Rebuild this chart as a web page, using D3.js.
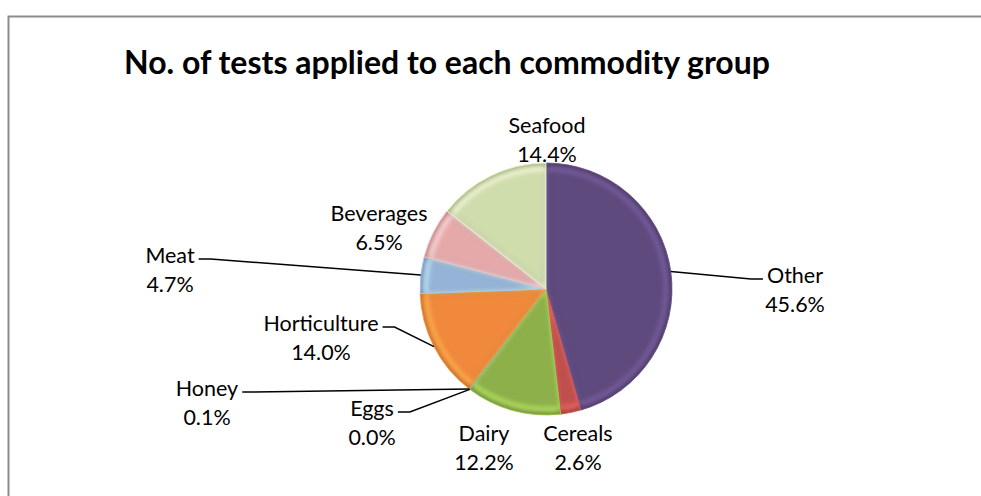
<!DOCTYPE html>
<html>
<head>
<meta charset="utf-8">
<script src="https://cdn.jsdelivr.net/npm/d3@7"></script>
<style>
  body { margin: 0; background: #fff; }
  svg { display: block; }
  text { font-family: Lato, "Open Sans", sans-serif; fill: #000; }
</style>
</head>
<body>
<div id="chart"></div>
<script>
// Data (clockwise from 12 o'clock)
const categories = ["Other", "Cereals", "Dairy", "Eggs", "Honey", "Horticulture", "Meat", "Beverages", "Seafood"];
const percents = [45.6, 2.6, 12.2, 0.0, 0.1, 14.0, 4.7, 6.5, 14.4];
const percentLabels = ["45.6%", "2.6%", "12.2%", "0.0%", "0.1%", "14.0%", "4.7%", "6.5%", "14.4%"];
const sliceColors = ["#5f4a7e", "#c0504d", "#8db04b", "#4bacc6", "#4bacc6", "#f0893c", "#95b3d7", "#e6a9aa", "#cfdcab"];

// label placement (centre x, baseline y of the first line) and whether a leader line is drawn
const labelLayout = {
    "Other":        {x: 795, y: 283, leader: true,  side: "left"},
    "Cereals":      {x: 578, y: 441, leader: false},
    "Dairy":        {x: 484, y: 441, leader: false},
    "Eggs":         {x: 372, y: 416, leader: true,  side: "right"},
    "Honey":        {x: 207, y: 396, leader: true,  side: "right"},
    "Horticulture": {x: 321, y: 331, leader: true,  side: "right"},
    "Meat":         {x: 170, y: 263, leader: true,  side: "right"},
    "Beverages":    {x: 379, y: 221, leader: false},
    "Seafood":      {x: 547, y: 133, leader: false}
};

const width = 981, height = 496;
const cx = 546, cy = 289, radius = 126;
const labelSize = 21.5, lineGap = 29;

const svg = d3.select("#chart").append("svg")
    .attr("width", width)
    .attr("height", height);

const defs = svg.append("defs");
defs.append("filter")
    .attr("id", "soft")
    .attr("x", "-20%").attr("y", "-20%").attr("width", "140%").attr("height", "140%")
    .append("feGaussianBlur")
    .attr("stdDeviation", 2.2);

// chart border (only top and left edges fall inside the window)
svg.append("rect")
    .attr("x", 8.5)
    .attr("y", 16.5)
    .attr("width", 1000)
    .attr("height", 500)
    .attr("fill", "#fff")
    .attr("stroke", "#8c8c8c")
    .attr("stroke-width", 2);

svg.append("text")
    .attr("x", 447)
    .attr("y", 74)
    .attr("text-anchor", "middle")
    .attr("font-size", 32)
    .attr("font-weight", "bold")
    .text("No. of tests applied to each commodity group");

const rows = categories.map((c, i) => ({name: c, value: percents[i], label: percentLabels[i], color: sliceColors[i]}));

const pie = d3.pie()
    .sort(null)
    .value(d => d.value);
const arcs = pie(rows);

const arc = d3.arc().innerRadius(0).outerRadius(radius);

const pieG = svg.append("g")
    .attr("transform", `translate(${cx},${cy})`);

// slices with a soft bevel highlight clipped inside each slice
arcs.forEach((a, i) => {
    if (a.endAngle - a.startAngle <= 0) return;
    const id = "clip" + i;
    defs.append("clipPath").attr("id", id)
        .append("path").attr("d", arc(a));
    const g = pieG.append("g");
    g.append("path")
        .attr("d", arc(a))
        .attr("fill", a.data.color);
    const inner = g.append("g").attr("clip-path", `url(#${id})`);
    inner.append("path")
        .attr("d", arc(a))
        .attr("fill", "none")
        .attr("stroke", d3.color(a.data.color).darker(0.6))
        .attr("stroke-width", 5)
        .attr("filter", "url(#soft)");
    inner.append("path")
        .attr("d", d3.arc().innerRadius(0).outerRadius(radius - 6)(a))
        .attr("fill", "none")
        .attr("stroke", d3.color(a.data.color).brighter(0.9))
        .attr("stroke-opacity", 0.7)
        .attr("stroke-width", 4)
        .attr("filter", "url(#soft)");
    g.append("path")
        .attr("d", arc(a))
        .attr("fill", "none")
        .attr("stroke", d3.color(a.data.color).brighter(0.4))
        .attr("stroke-width", 0.8);
});

// labels and leader lines
const labelG = svg.append("g");
arcs.forEach(a => {
    const lay = labelLayout[a.data.name];
    const t = labelG.append("text")
        .attr("text-anchor", "middle")
        .attr("font-size", labelSize);
    t.append("tspan").attr("x", lay.x).attr("y", lay.y).text(a.data.name);
    t.append("tspan").attr("x", lay.x).attr("y", lay.y + lineGap).text(a.data.label);

    if (lay.leader) {
        const mid = (a.startAngle + a.endAngle) / 2;
        const px = cx + radius * Math.sin(mid);
        const py = cy - radius * Math.cos(mid);
        const w = t.select("tspan").node().getComputedTextLength();
        const ly = lay.y - 4;
        let pts;
        if (lay.side === "right") {
            const x0 = lay.x + w / 2 + 4;
            pts = [[x0, ly], [x0 + 12, ly], [px, py]];
        } else {
            const x0 = lay.x - w / 2 - 4;
            pts = [[x0, ly], [x0 - 12, ly], [px, py]];
        }
        labelG.append("path")
            .attr("d", d3.line()(pts))
            .attr("fill", "none")
            .attr("stroke", "#000")
            .attr("stroke-width", 1.5);
    }
});
</script>
</body>
</html>
